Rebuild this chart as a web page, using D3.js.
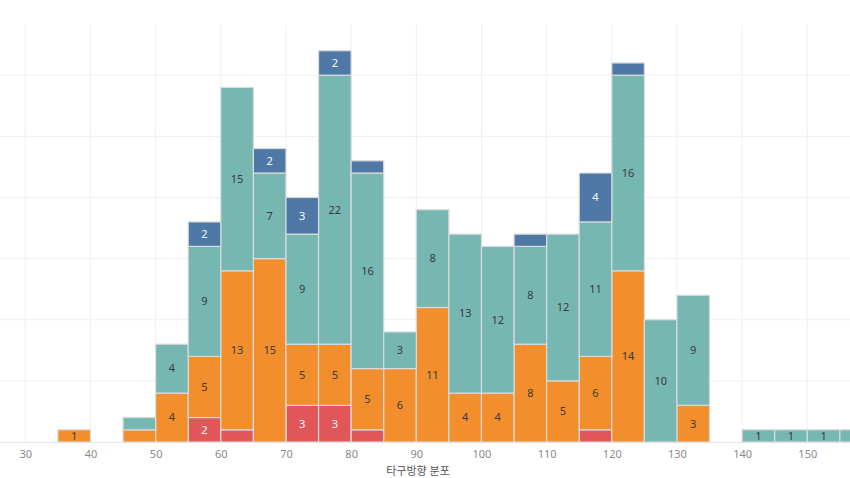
<!DOCTYPE html>
<html><head><meta charset="utf-8">
<script src="https://cdn.jsdelivr.net/npm/d3@7"></script>
<style>body{margin:0;background:#fff}svg{display:block}</style>
</head><body>
<svg id="c" width="850" height="478"></svg>
<script>
const binStarts = [35,45,50,55,60,65,70,75,80,85,90,95,100,105,110,115,120,125,130,140,145,150,155];
const binWidth = 5;
const redVals    = [0,0,0,2,1,0,3,3,1,0,0,0,0,0,0,1,0,0,0,0,0,0,0];
const orangeVals = [1,1,4,5,13,15,5,5,5,6,11,4,4,8,5,6,14,0,3,0,0,0,0];
const tealVals   = [0,1,4,9,15,7,9,22,16,3,8,13,12,8,12,11,16,10,9,1,1,1,1];
const blueVals   = [0,0,0,2,0,2,3,2,1,0,0,0,0,1,0,4,1,0,0,0,0,0,0];
const seriesKeys = ["red","orange","teal","blue"];
const xTicks = [30,40,50,60,70,80,90,100,110,120,130,140,150];
const yGrid = [5,10,15,20,25,30];
const xTitle = "타구방향 분포";

const colors = {red:"#E15759", orange:"#F28E2B", teal:"#76B7B2", blue:"#4E79A7"};
const labelColors = {red:"#ffffff", orange:"#3a3a3a", teal:"#3a3a3a", blue:"#ffffff"};

const rows = binStarts.map((b,i)=>({bin:b, red:redVals[i], orange:orangeVals[i], teal:tealVals[i], blue:blueVals[i]}));
const stacked = d3.stack().keys(seriesKeys)(rows);

const W = 850;
const svg = d3.select("#c");
const font = "'Noto Sans','Noto Sans CJK KR',sans-serif";
const x = d3.scaleLinear().domain([30,150]).range([25.3,807.3]);
const y = d3.scaleLinear().domain([0,30]).range([442,75.2]);
const plotTop = 25;

// grid
svg.append("g").selectAll("line").data(yGrid).join("line")
  .attr("x1",0).attr("x2",W).attr("y1",d=>y(d)).attr("y2",d=>y(d))
  .attr("stroke","#efefef").attr("stroke-width",1);
svg.append("g").selectAll("line").data(xTicks).join("line")
  .attr("x1",d=>x(d)).attr("x2",d=>x(d)).attr("y1",plotTop).attr("y2",442)
  .attr("stroke","#efefef").attr("stroke-width",1);
svg.append("line").attr("x1",0).attr("x2",W).attr("y1",442.5).attr("y2",442.5)
  .attr("stroke","#e6e6e6");

// bars
const g = svg.append("g");
stacked.forEach(s=>{
  const key = s.key;
  s.forEach((d,i)=>{
    const v = d[1]-d[0];
    if(v<=0) return;
    const x0 = x(d.data.bin), x1 = x(d.data.bin+binWidth);
    g.append("rect").attr("x",x0).attr("y",y(d[1])).attr("width",x1-x0).attr("height",y(d[0])-y(d[1]))
      .attr("fill",colors[key]).attr("stroke","#dadada").attr("stroke-width",1.2);
    const total = seriesKeys.reduce((a,k)=>a+d.data[k],0);
    const cx = (x0+x1)/2;
    if((v>=2 || total===1) && cx + 6 < W){
      g.append("text").attr("x",cx).attr("y",(y(d[0])+y(d[1]))/2)
        .attr("dy","0.35em").attr("text-anchor","middle")
        .attr("font-family",font).attr("font-size",11)
        .attr("fill",labelColors[key]).text(v);
    }
  });
});

// x axis labels
const xa = svg.append("g").attr("transform","translate(0,442)")
  .call(d3.axisBottom(x).tickValues(xTicks).tickSize(0).tickPadding(8).tickFormat(d3.format("d")));
xa.select(".domain").remove();
xa.selectAll("text").attr("font-family",font).attr("font-size",11).attr("fill","#8a8a8a");

svg.append("text").attr("x",418).attr("y",475).attr("text-anchor","middle")
  .attr("font-family",font).attr("font-size",11).attr("fill","#555").text(xTitle);
</script>
</body></html>
